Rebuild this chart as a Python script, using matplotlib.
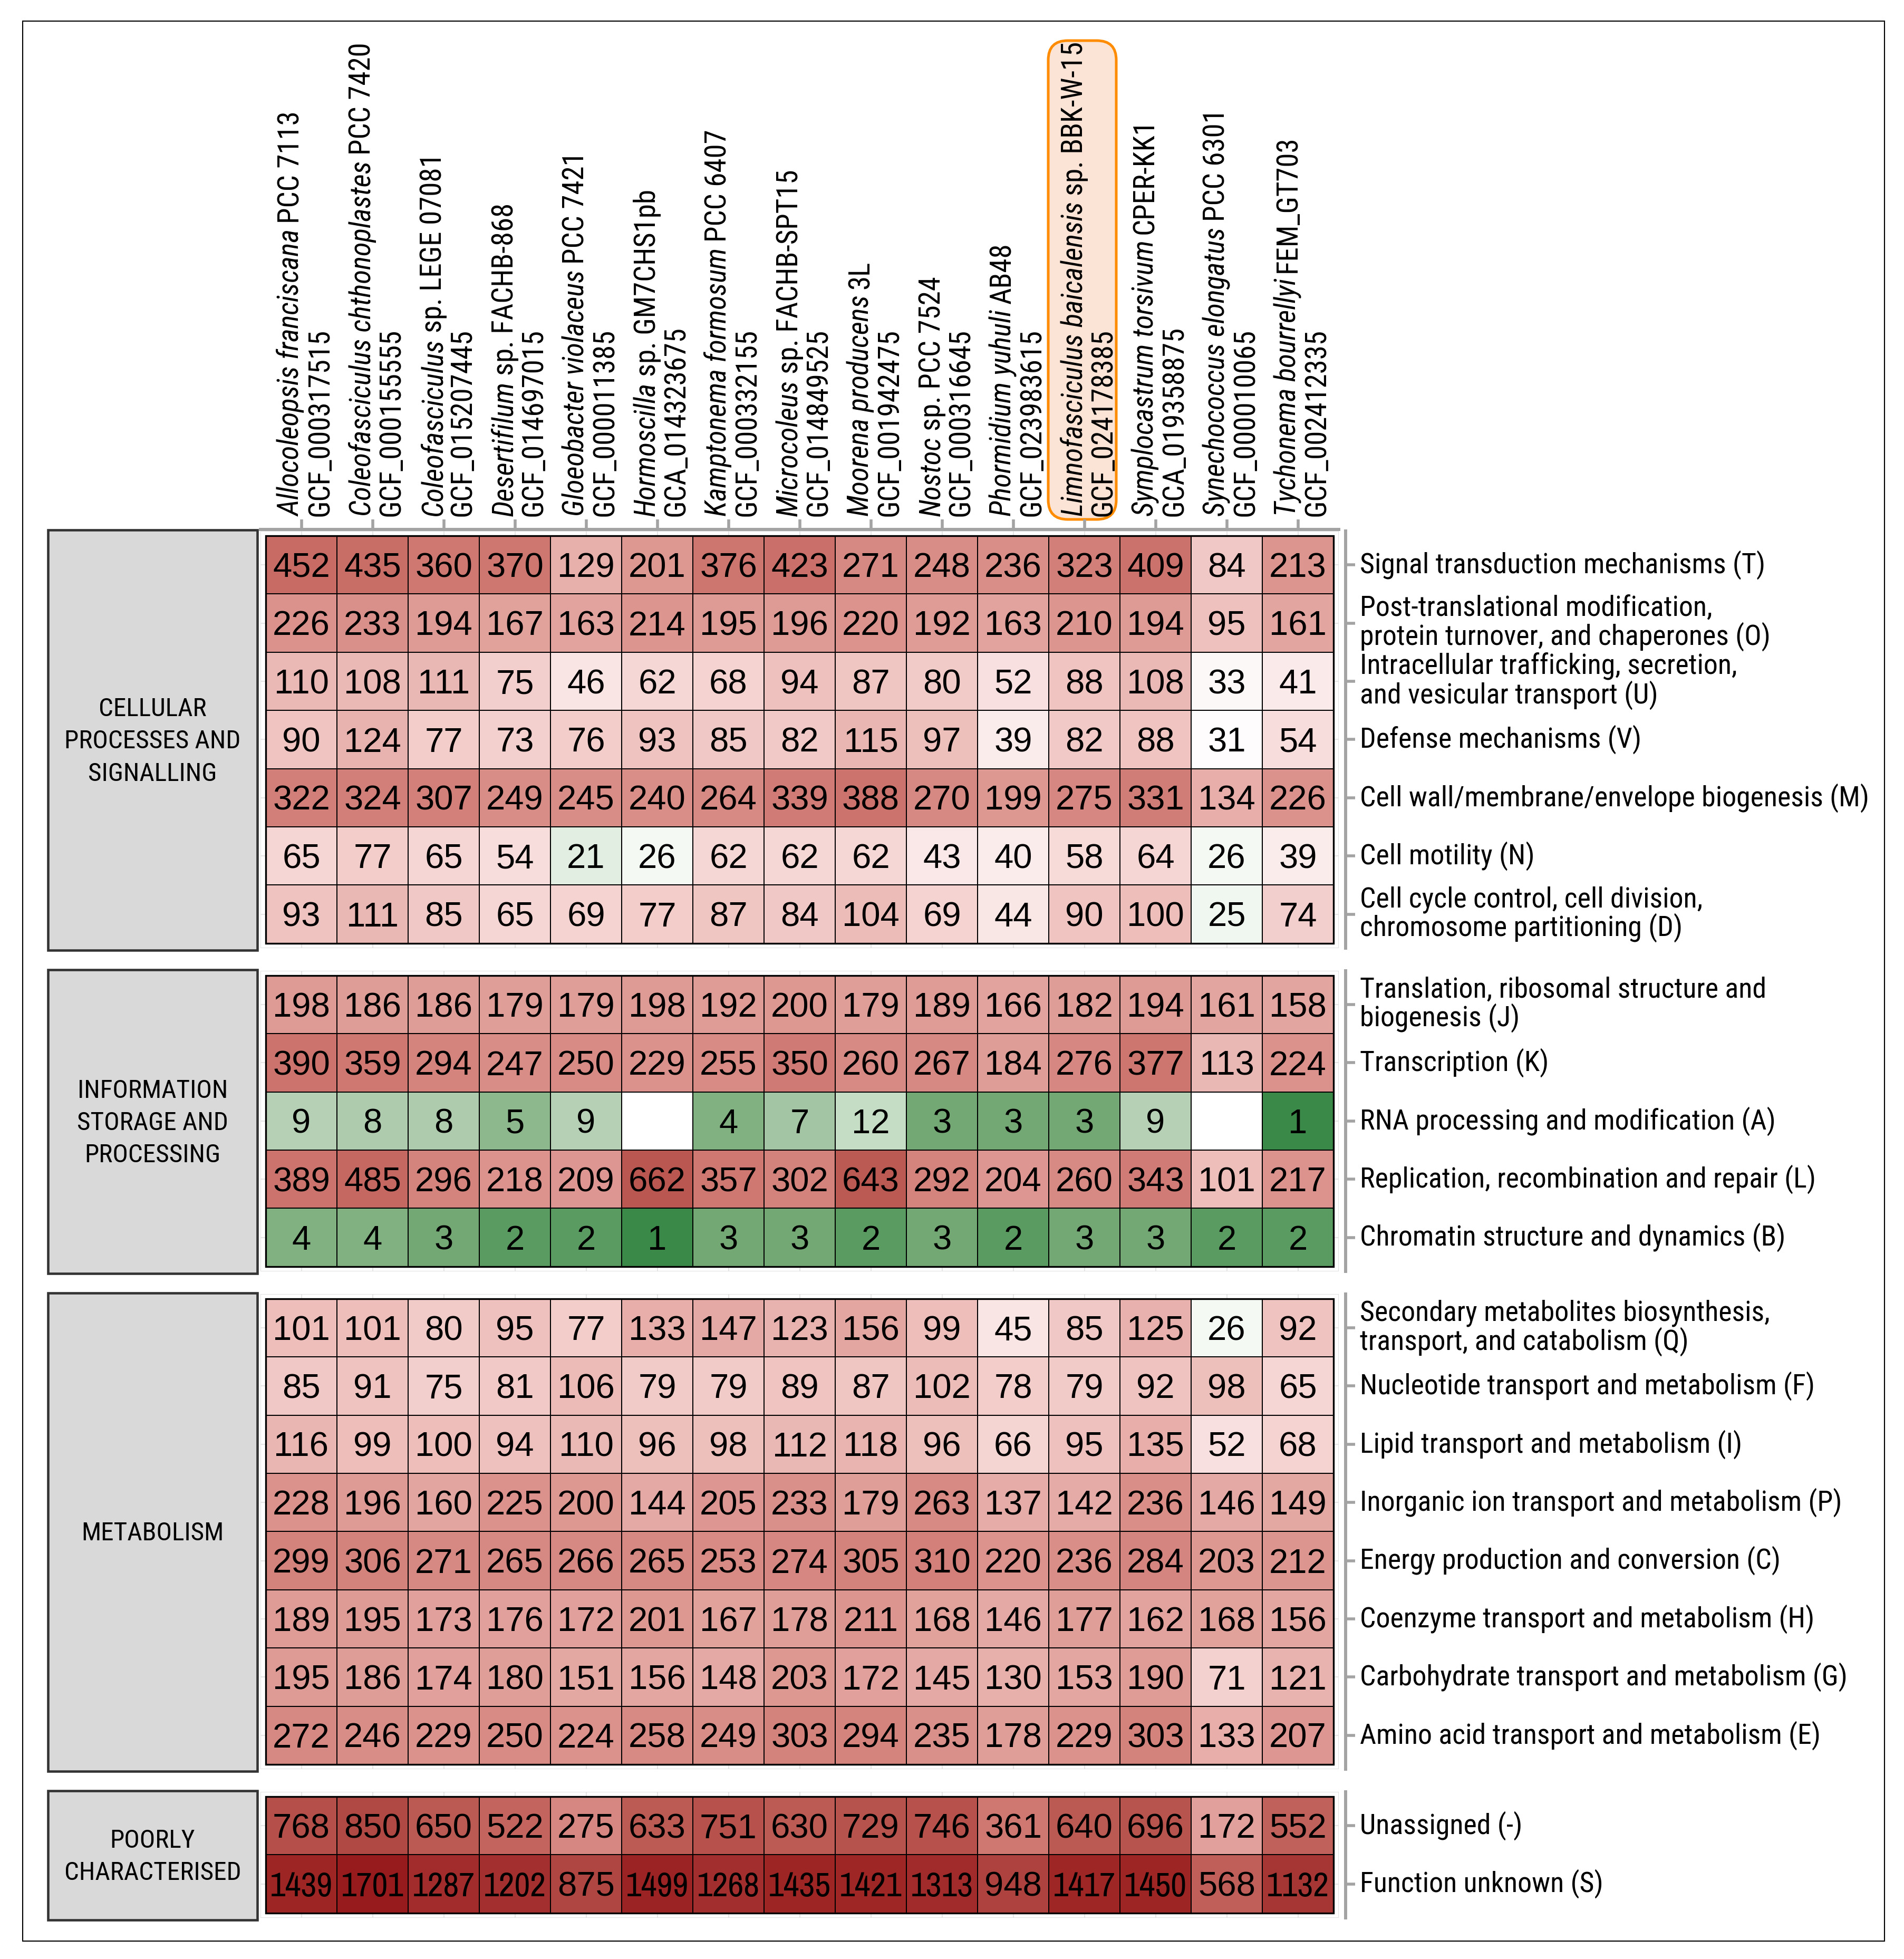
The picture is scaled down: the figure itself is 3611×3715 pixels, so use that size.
import matplotlib
matplotlib.use("Agg")
import matplotlib.pyplot as plt
import numpy as np
from matplotlib import font_manager
from matplotlib.colors import LinearSegmentedColormap, LogNorm
from matplotlib.patches import Rectangle, FancyBboxPatch
from matplotlib.transforms import blended_transform_factory, ScaledTranslation

# ---- data ----
species = ["Allocoleopsis franciscana", "Coleofasciculus chthonoplastes", "Coleofasciculus",
           "Desertifilum", "Gloeobacter violaceus", "Hormoscilla", "Kamptonema formosum",
           "Microcoleus", "Moorena producens", "Nostoc", "Phormidium yuhuli",
           "Limnofasciculus baicalensis", "Symplocastrum torsivum", "Synechococcus elongatus",
           "Tychonema bourrellyi"]
strains = ["PCC 7113", "PCC 7420", "sp. LEGE 07081", "sp. FACHB-868", "PCC 7421", "sp. GM7CHS1pb",
           "PCC 6407", "sp. FACHB-SPT15", "3L", "sp. PCC 7524", "AB48", "sp. BBK-W-15", "CPER-KK1",
           "PCC 6301", "FEM_GT703"]
accessions = ["GCF_000317515", "GCF_000155555", "GCF_015207445", "GCF_014697015", "GCF_000011385",
              "GCA_014323675", "GCF_000332155", "GCF_014849525", "GCF_001942475", "GCF_000316645",
              "GCF_023983615", "GCF_024178385", "GCA_019358875", "GCF_000010065", "GCF_002412335"]
highlight = "Limnofasciculus baicalensis"

groups = ["CELLULAR\nPROCESSES AND\nSIGNALLING", "INFORMATION\nSTORAGE AND\nPROCESSING",
          "METABOLISM", "POORLY\nCHARACTERISED"]

cellular_labels = ["Signal transduction mechanisms (T)",
                   "Post-translational modification,\nprotein turnover, and chaperones (O)",
                   "Intracellular trafficking, secretion,\nand vesicular transport (U)",
                   "Defense mechanisms (V)",
                   "Cell wall/membrane/envelope biogenesis (M)",
                   "Cell motility (N)",
                   "Cell cycle control, cell division,\nchromosome partitioning (D)"]
cellular = [[452, 435, 360, 370, 129, 201, 376, 423, 271, 248, 236, 323, 409, 84, 213],
            [226, 233, 194, 167, 163, 214, 195, 196, 220, 192, 163, 210, 194, 95, 161],
            [110, 108, 111, 75, 46, 62, 68, 94, 87, 80, 52, 88, 108, 33, 41],
            [90, 124, 77, 73, 76, 93, 85, 82, 115, 97, 39, 82, 88, 31, 54],
            [322, 324, 307, 249, 245, 240, 264, 339, 388, 270, 199, 275, 331, 134, 226],
            [65, 77, 65, 54, 21, 26, 62, 62, 62, 43, 40, 58, 64, 26, 39],
            [93, 111, 85, 65, 69, 77, 87, 84, 104, 69, 44, 90, 100, 25, 74]]

information_labels = ["Translation, ribosomal structure and\nbiogenesis (J)",
                      "Transcription (K)",
                      "RNA processing and modification (A)",
                      "Replication, recombination and repair (L)",
                      "Chromatin structure and dynamics (B)"]
information = [[198, 186, 186, 179, 179, 198, 192, 200, 179, 189, 166, 182, 194, 161, 158],
               [390, 359, 294, 247, 250, 229, 255, 350, 260, 267, 184, 276, 377, 113, 224],
               [9, 8, 8, 5, 9, 0, 4, 7, 12, 3, 3, 3, 9, 0, 1],
               [389, 485, 296, 218, 209, 662, 357, 302, 643, 292, 204, 260, 343, 101, 217],
               [4, 4, 3, 2, 2, 1, 3, 3, 2, 3, 2, 3, 3, 2, 2]]

metabolism_labels = ["Secondary metabolites biosynthesis,\ntransport, and catabolism (Q)",
                     "Nucleotide transport and metabolism (F)",
                     "Lipid transport and metabolism (I)",
                     "Inorganic ion transport and metabolism (P)",
                     "Energy production and conversion (C)",
                     "Coenzyme transport and metabolism (H)",
                     "Carbohydrate transport and metabolism (G)",
                     "Amino acid transport and metabolism (E)"]
metabolism = [[101, 101, 80, 95, 77, 133, 147, 123, 156, 99, 45, 85, 125, 26, 92],
              [85, 91, 75, 81, 106, 79, 79, 89, 87, 102, 78, 79, 92, 98, 65],
              [116, 99, 100, 94, 110, 96, 98, 112, 118, 96, 66, 95, 135, 52, 68],
              [228, 196, 160, 225, 200, 144, 205, 233, 179, 263, 137, 142, 236, 146, 149],
              [299, 306, 271, 265, 266, 265, 253, 274, 305, 310, 220, 236, 284, 203, 212],
              [189, 195, 173, 176, 172, 201, 167, 178, 211, 168, 146, 177, 162, 168, 156],
              [195, 186, 174, 180, 151, 156, 148, 203, 172, 145, 130, 153, 190, 71, 121],
              [272, 246, 229, 250, 224, 258, 249, 303, 294, 235, 178, 229, 303, 133, 207]]

poorly_labels = ["Unassigned (-)", "Function unknown (S)"]
poorly = [[768, 850, 650, 522, 275, 633, 751, 630, 729, 746, 361, 640, 696, 172, 552],
          [1439, 1701, 1287, 1202, 875, 1499, 1268, 1435, 1421, 1313, 948, 1417, 1450, 568, 1132]]

# colour anchors (count -> colour)
anchor_counts = [1, 2, 3, 5, 8, 12, 21, 30, 40, 65, 110, 226, 452, 768, 1701]
anchor_colors = ["#3b8948", "#5b9c62", "#74a875", "#8db78c", "#afccae", "#c5dcc5", "#e4eee3",
                 "#ffffff", "#faebea", "#f5d6d4", "#ebb9b5", "#db928c", "#c96c66", "#b5504a",
                 "#971b1c"]

# ---- fonts ----
available = {f.name for f in font_manager.fontManager.ttflist}


def pick(*names):
    for n in names:
        if n in available:
            return n
    return "DejaVu Sans"


COND = pick("Ubuntu Condensed", "Roboto Condensed", "Liberation Sans Narrow", "DejaVu Sans")
NUM = pick("Liberation Sans", "Arimo", "DejaVu Sans")
NUM_NARROW = pick("Liberation Sans Narrow", "Archivo Narrow", "Roboto Condensed", NUM)

# ---- figure ----
W, H = 3611, 3715
fig = plt.figure(figsize=(W / 100, H / 100), dpi=100)


def fx(x):
    return x / W


def fy(y):
    return 1 - y / H


vmax = max(anchor_counts)
pos = np.log10(anchor_counts) / np.log10(vmax)
cmap = LinearSegmentedColormap.from_list("cog", list(zip(pos, anchor_colors)))
cmap.set_bad("white")
norm = LogNorm(vmin=1, vmax=vmax)

panels = [(cellular, cellular_labels), (information, information_labels),
          (metabolism, metabolism_labels), (poorly, poorly_labels)]

ROW_H, GAP, CELL_TOP = 110.4, 61, 1016
CELL_L, COL_W = 504, 135
PADX, PADY = 10, 9
AXIS_GREY = "#a3a3a3"
ncol = len(species)

over = fig.add_axes([0, 0, 1, 1], zorder=-1)
over.set_xlim(0, W)
over.set_ylim(H, 0)
over.axis("off")
over.patch.set_visible(False)

# outer frame
over.add_patch(Rectangle((43, 40), 3531, 3641, fill=False, ec="black", lw=1.5))

axes = []
top = CELL_TOP
for k, ((vals, labels), group) in enumerate(zip(panels, groups)):
    data = np.array(vals, dtype=float)
    n = data.shape[0]
    ax_top = top - PADY
    ax_h = n * ROW_H + 2 * PADY
    ax_w = ncol * COL_W + 2 * PADX
    ax = fig.add_axes([fx(CELL_L - PADX), fy(ax_top + ax_h), ax_w / W, ax_h / H])
    axes.append(ax)
    masked = np.ma.masked_where(data <= 0, data)
    ax.pcolormesh(np.arange(ncol + 1) - 0.5, np.arange(n + 1) - 0.5, masked, cmap=cmap, norm=norm,
                  edgecolors="black", linewidth=1.4, zorder=2)
    ax.add_patch(Rectangle((-0.5, -0.5), ncol, n, fill=False, ec="black", lw=2.4, zorder=3))
    ax.set_xlim(-0.5 - PADX / COL_W, ncol - 0.5 + PADX / COL_W)
    ax.set_ylim(n - 0.5 + PADY / ROW_H, -0.5 - PADY / ROW_H)

    for i in range(n):
        for j in range(ncol):
            v = int(data[i, j])
            if v <= 0:
                continue
            fam = NUM_NARROW if v >= 1000 else NUM
            fs = 40 if fam == NUM and v >= 1000 else 47
            ax.text(j, i + 0.21, str(v), ha="center", va="baseline", fontsize=fs,
                    family=fam, color="black", zorder=4)

    # panel border + grid
    ax.add_patch(Rectangle((0, 0), 1, 1, transform=ax.transAxes, fill=False, ec="#dcdcdc",
                           lw=1.2, zorder=1))
    ax.set_xticks(range(ncol))
    ax.set_yticks(range(n))
    ax.grid(True, color="#e6e6e6", lw=1.5, zorder=0)
    ax.set_axisbelow(True)
    for s in ["left", "bottom", "top"]:
        ax.spines[s].set_visible(False)
    ax.spines["right"].set_position(("outward", 9.5))
    ax.spines["right"].set_color(AXIS_GREY)
    ax.spines["right"].set_linewidth(4.3)
    ax.tick_params(axis="y", left=False, labelleft=False, right=True, labelright=True,
                   length=13, width=4, color=AXIS_GREY, pad=6, labelsize=38.8)
    ax.set_yticklabels(labels, family=COND, linespacing=1.0, va="center")
    if k == 0:
        ax.spines["top"].set_visible(True)
        ax.spines["top"].set_position(("outward", 2.5))
        ax.spines["top"].set_color(AXIS_GREY)
        ax.spines["top"].set_linewidth(4.3)
        ax.tick_params(axis="x", bottom=False, labelbottom=False, top=True, labeltop=False,
                       length=14, width=4, color=AXIS_GREY)
    else:
        ax.tick_params(axis="x", bottom=False, labelbottom=False, top=False, labeltop=False)

    # facet strip
    cells_bot = top + n * ROW_H
    over.add_patch(Rectangle((91, top - 11), 397, cells_bot + 13 - (top - 11), fc="#d9d9d9",
                             ec="#333333", lw=3.3))
    over.text(289.5, (top + cells_bot) / 2 + 4, group, ha="center", va="center", fontsize=35.5,
              family=COND, linespacing=1.42)
    top = cells_bot + GAP

# ---- column labels on top ----
ax1 = axes[0]
renderer = fig.canvas.get_renderer()
base_tr = blended_transform_factory(ax1.transData, fig.transFigure)
TEXT_Y = 979
LAB_FS = 39.5
for j in range(ncol):
    tr1 = base_tr + ScaledTranslation(-4 / 100, 0, fig.dpi_scale_trans)
    tr2 = base_tr + ScaledTranslation(51 / 100, 0, fig.dpi_scale_trans)
    t = fig.text(j, fy(TEXT_Y), species[j], transform=tr1, rotation=90, rotation_mode="anchor",
                 ha="left", va="baseline", fontsize=LAB_FS, style="italic", family=COND)
    length = t.get_window_extent(renderer).height
    fig.text(j, fy(TEXT_Y - length - 11), strains[j], transform=tr1, rotation=90,
             rotation_mode="anchor", ha="left", va="baseline", fontsize=LAB_FS, family=COND)
    fig.text(j, fy(TEXT_Y), accessions[j], transform=tr2, rotation=90, rotation_mode="anchor",
             ha="left", va="baseline", fontsize=LAB_FS, family=COND)

# highlight box around the new strain
hj = species.index(highlight)
hx = ax1.transData.transform((hj, 0))[0] - 4
over.add_patch(FancyBboxPatch((hx - 64.5, 77), 129, 908,
                              boxstyle="round,pad=0,rounding_size=37",
                              fc="#fbe4d5", ec="#ff8c00", lw=3.6))

fig.savefig("out.png", dpi=100, facecolor="white")
